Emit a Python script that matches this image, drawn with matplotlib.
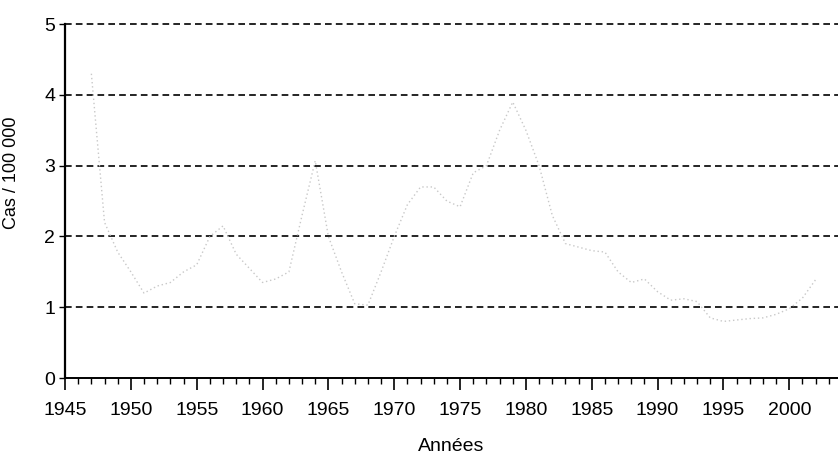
import matplotlib
matplotlib.use("Agg")
import matplotlib.pyplot as plt
from matplotlib.ticker import MultipleLocator

# Incidence per 100 000
years = list(range(1947, 2003))
cases = [4.3, 2.2, 1.78, 1.5, 1.2, 1.3, 1.35, 1.5, 1.6, 2.0,
         2.15, 1.75, 1.55, 1.35, 1.4, 1.5, 2.3, 3.07, 2.0, 1.5,
         1.05, 1.03, 1.5, 2.0, 2.45, 2.7, 2.7, 2.5, 2.42, 2.9,
         3.0, 3.5, 3.9, 3.5, 3.0, 2.3, 1.9, 1.85, 1.8, 1.78,
         1.5, 1.35, 1.4, 1.22, 1.1, 1.12, 1.08, 0.85, 0.8, 0.82,
         0.84, 0.85, 0.9, 0.98, 1.13, 1.39]

y_ticks = [0, 1, 2, 3, 4, 5]
x_ticks = list(range(1945, 2001, 5))

plt.rcParams["font.family"] = ["Liberation Sans", "DejaVu Sans"]

fig = plt.figure(figsize=(8.38, 4.65), dpi=100)
ax = fig.add_axes([0.0776, 0.187, 0.9224, 0.761])

# the scanned curve is very faint
ax.plot(years, cases, color="#c8c8c8", lw=1.0, ls=(0, (1, 2)), zorder=3)

for v in y_ticks[1:]:
    ax.axhline(v, color="black", lw=1.2, ls=(0, (4, 2.5)), zorder=2, clip_on=False)

ax.set_xlim(1945, 2003.7)
ax.set_ylim(0, 5)
ax.set_xticks(x_ticks)
ax.set_yticks(y_ticks)
ax.xaxis.set_minor_locator(MultipleLocator(1))

for s in ["top", "right"]:
    ax.spines[s].set_visible(False)
ax.spines["left"].set_linewidth(1.6)
ax.spines["bottom"].set_linewidth(1.4)

ax.tick_params(axis="x", which="major", direction="out", length=8.5, width=1.2,
               pad=9, labelsize=14)
ax.tick_params(axis="x", which="minor", direction="out", length=4, width=1)
ax.tick_params(axis="y", direction="out", length=4, width=1, pad=3, labelsize=14)

ax.set_xlabel("Années", fontsize=14)
ax.xaxis.set_label_coords(0.5, -0.17)
ax.set_ylabel("Cas / 100 000", fontsize=13)
ax.yaxis.set_label_coords(-0.058, 0.58)

fig.savefig("out.png", dpi=100)
